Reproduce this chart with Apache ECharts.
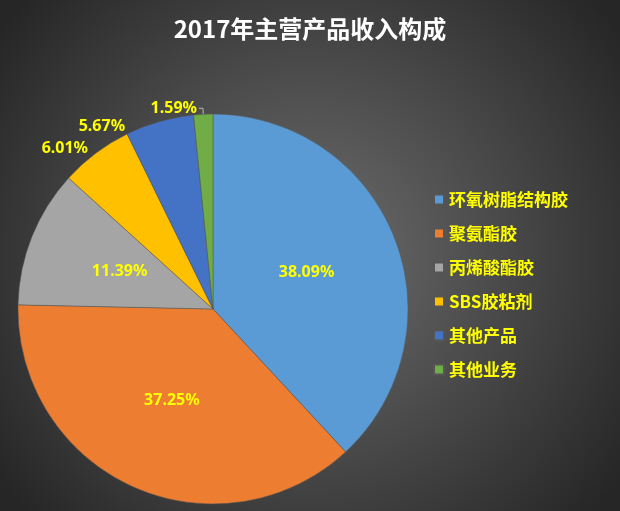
<!DOCTYPE html>
<html><head><meta charset="utf-8">
<script src="https://cdn.jsdelivr.net/npm/echarts@6/dist/echarts.min.js"></script>
<style>html,body{margin:0;padding:0;}#c{width:620px;height:511px;}</style>
</head><body><div id="c"></div>
<script>
var names = ['环氧树脂结构胶','聚氨酯胶','丙烯酸酯胶','SBS胶粘剂','其他产品','其他业务'];
var values = [38.09, 37.25, 11.39, 6.01, 5.67, 1.59];
var colors = ['#5B9BD5','#ED7D31','#A5A5A5','#FFC000','#4472C4','#70AD47'];
var outside = [false,false,false,true,true,true];

var data = names.map(function(n,i){
  var d = {name:n, value:values[i], itemStyle:{color:colors[i]}};
  if (outside[i]) {
    d.label = {position:'outside', distanceToLabelLine:2};
    d.labelLine = {show: i==5, length:6, length2:4, lineStyle:{color:'#bbb'}};
  }
  return d;
});

var chart = echarts.init(document.getElementById('c'));
chart.setOption({
  backgroundColor: {type:'radial', x:0.5, y:0.5, r:0.75,
    colorStops:[{offset:0,color:'#6e6e6e'},{offset:1,color:'#262626'}]},
  title: {text:'2017年主营产品收入构成', left:'center', top:12,
    textStyle:{color:'#fff', fontSize:24, fontWeight:'bold', fontFamily:'Noto Sans CJK SC'}},
  legend: {orient:'vertical', left:428, top:186, itemGap:17, itemWidth:10, itemHeight:10,
    icon:'rect', data:names,
    textStyle:{color:'#FFFF00', fontSize:17, fontWeight:'bold', fontFamily:'Noto Sans CJK SC'}},
  series: [{
    type:'pie', center:[213,309], radius:195, startAngle:90, clockwise:true,
    animation:false, data:data,
    itemStyle:{borderColor:'#555', borderWidth:0.5},
    label:{show:true, position:'inner', formatter:function(p){return p.value.toFixed(2)+'%';},
      color:'#FFFF00', fontSize:16, fontWeight:'bold', fontFamily:'Noto Sans'},
    labelLine:{show:false}
  }]
});
</script></body></html>
